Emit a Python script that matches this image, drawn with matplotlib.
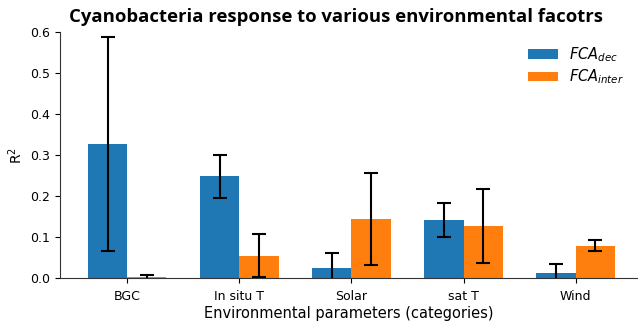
import numpy as np
import matplotlib
matplotlib.use("Agg")
import matplotlib.pyplot as plt

categories = ["BGC", "In situ T", "Solar", "sat T", "Wind"]
fca_dec = [0.327, 0.248, 0.024, 0.141, 0.012]
fca_dec_err = [0.26, 0.053, 0.038, 0.042, 0.022]
fca_inter = [0.003, 0.055, 0.144, 0.127, 0.079]
fca_inter_err = [0.005, 0.053, 0.112, 0.089, 0.014]

x = np.arange(len(categories))
width = 0.35

fig = plt.figure(figsize=(6.38, 3.23), dpi=100)
ax = fig.add_axes([0.094, 0.139, 0.905, 0.762])

ax.bar(x - width / 2, fca_dec, width, yerr=fca_dec_err, capsize=5,
       color="#1f77b4", error_kw=dict(elinewidth=1.5, capthick=1.5, ecolor="black"),
       label=r"$FCA_{dec}$")
ax.bar(x + width / 2, fca_inter, width, yerr=fca_inter_err, capsize=5,
       color="#ff7f0e", error_kw=dict(elinewidth=1.5, capthick=1.5, ecolor="black"),
       label=r"$FCA_{inter}$")

ax.set_xticks(x)
ax.set_xticklabels(categories, fontsize=9)
ax.tick_params(axis="x", pad=5)
ax.tick_params(axis="y", labelsize=9)
ax.set_xlim(-0.6, 4.55)
ax.set_ylim(0, 0.6)
ax.spines["top"].set_visible(False)
ax.spines["right"].set_visible(False)
for s in ["left", "bottom"]:
    ax.spines[s].set_color("#333333")

ax.set_ylabel("R$^2$", fontsize=10)
ax.set_xlabel("Environmental parameters (categories)", fontsize=10.5, labelpad=2)
fig.suptitle("Cyanobacteria response to various environmental facotrs",
             fontsize=13.3, fontweight="bold", family="Open Sans", x=0.527, y=0.975)
ax.legend(loc="upper right", frameon=False, fontsize=10.5, handlelength=2.0,
          handleheight=0.6, labelspacing=0.25, bbox_to_anchor=(1.0, 1.0))

fig.savefig("out.png", dpi=100)
